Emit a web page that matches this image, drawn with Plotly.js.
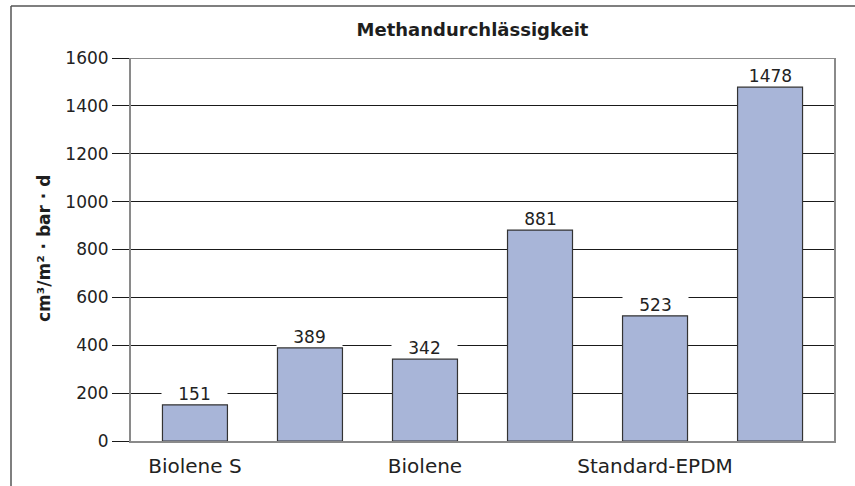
<!DOCTYPE html>
<html>
<head>
<meta charset="utf-8">
<script src="https://cdn.plot.ly/plotly-3.0.1.min.js"></script>
<style>html,body{margin:0;padding:0;background:#fff;}#chart{width:855px;height:486px;}</style>
</head>
<body>
<div id="chart"></div>
<script>
const barPositions = [0, 1, 2, 3, 4, 5];
const values = [151, 389, 342, 881, 523, 1478];
const groupTickPositions = [0, 2, 4];
const groupTickLabels = ["Biolene S", "Biolene", "Standard-EPDM"];
const yTicks = [0, 200, 400, 600, 800, 1000, 1200, 1400, 1600];
const chartTitle = "Methandurchlässigkeit";
const yTitle = "cm³/m² · bar · d";

const FONT = "DejaVu Sans, Liberation Sans, Arial, sans-serif";
const W = 855, H = 486;
const M = {l: 131, r: 21, t: 58, b: 45};
const pw = W - M.l - M.r, ph = H - M.t - M.b;
const px = x => (x - M.l) / pw;      // pixel -> paper x
const py = y => (H - M.b - y) / ph;  // pixel -> paper y

const trace = {
  type: 'bar',
  x: barPositions,
  y: values,
  width: 0.565,
  marker: {color: '#a8b5d8', line: {color: '#333333', width: 1.2}},
  hoverinfo: 'none'
};

const annotations = values.map((v, i) => ({
  x: barPositions[i], y: v, xref: 'x', yref: 'y',
  text: String(v), showarrow: false,
  xanchor: 'center', yanchor: 'bottom',
  width: 63, height: 17, borderpad: 1, bgcolor: '#ffffff',
  yshift: 1,
  font: {family: FONT, size: 17, color: '#222222'}
}));
annotations.push({
  x: px(44), y: py(249), xref: 'paper', yref: 'paper',
  text: yTitle, textangle: -90, showarrow: false,
  xanchor: 'center', yanchor: 'middle',
  font: {family: FONT, size: 17, color: '#1e1e1e', weight: 'bold'}
});

const layout = {
  width: W, height: H,
  margin: M,
  paper_bgcolor: '#ffffff', plot_bgcolor: '#ffffff',
  showlegend: false,
  bargap: 0,
  title: {
    text: chartTitle,
    x: px(472.5), xref: 'paper', xanchor: 'center',
    y: 1 - 30 / H, yref: 'container', yanchor: 'middle',
    font: {family: FONT, size: 18, color: '#1e1e1e', weight: 'bold'}
  },
  xaxis: {
    range: [-0.556, 5.556],
    tickmode: 'array', tickvals: groupTickPositions, ticktext: groupTickLabels,
    ticks: 'outside', ticklen: 6, tickcolor: 'rgba(0,0,0,0)',
    tickfont: {family: FONT, size: 20, color: '#222222'},
    showgrid: false, zeroline: false,
    showline: true, linecolor: '#8a8a8a', linewidth: 2, mirror: false
  },
  yaxis: {
    range: [0, 1600],
    tickmode: 'array', tickvals: yTicks,
    ticks: 'outside', ticklen: 17, tickcolor: '#1a1a1a', tickwidth: 1,
    tickfont: {family: FONT, size: 17, color: '#222222'},
    showgrid: true, gridcolor: '#1a1a1a', gridwidth: 1,
    zeroline: false,
    showline: true, linecolor: '#8a8a8a', linewidth: 2, mirror: true
  },
  annotations: annotations,
  shapes: [
    {type: 'line', xref: 'paper', yref: 'paper', x0: px(11), x1: px(11), y0: py(H), y1: py(6),
     line: {color: '#555555', width: 1.5}},
    {type: 'line', xref: 'paper', yref: 'paper', x0: px(11), x1: px(W), y0: py(6), y1: py(6),
     line: {color: '#555555', width: 1.5}},
    {type: 'line', xref: 'paper', yref: 'y', x0: 0, x1: 1, y0: 1600, y1: 1600,
     line: {color: '#1a1a1a', width: 1}, layer: 'above'}
  ]
};

Plotly.newPlot('chart', [trace], layout, {staticPlot: true, displayModeBar: false});
</script>
</body>
</html>
